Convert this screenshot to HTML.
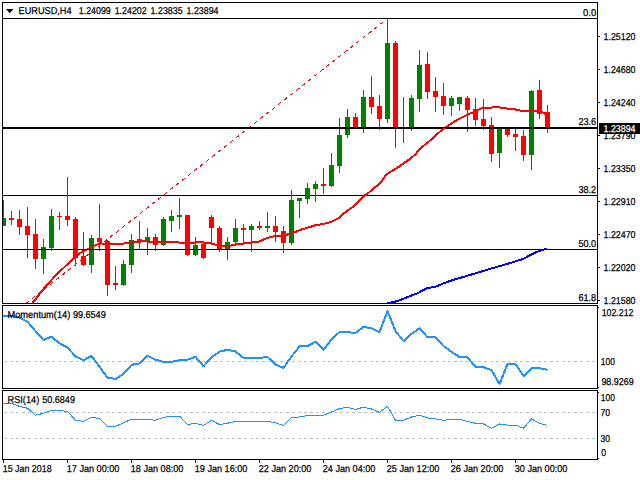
<!DOCTYPE html>
<html><head><meta charset="utf-8"><title>EURUSD,H4</title>
<style>
html,body{margin:0;padding:0;background:#fff;}
body{width:640px;height:480px;overflow:hidden;font-family:"Liberation Sans",sans-serif;}
svg{display:block;position:absolute;left:0;top:0;}
text{font-family:"Liberation Sans",sans-serif;font-size:10px;fill:#000;stroke:#000;stroke-width:0.25px;text-rendering:geometricPrecision;}
.ce{shape-rendering:crispEdges;}
</style></head><body>
<svg width="640" height="480" viewBox="0 0 640 480">
<defs>
<clipPath id="cm"><rect x="3" y="3" width="594" height="300"/></clipPath>
<clipPath id="c1"><rect x="3" y="306" width="594" height="82"/></clipPath>
<clipPath id="c2"><rect x="3" y="391" width="594" height="68"/></clipPath>
</defs>
<rect x="0" y="0" width="640" height="480" fill="#fff"/>

<g class="ce" fill="#000">
<rect x="3" y="18" width="594" height="1"/>
<rect x="3" y="195" width="594" height="1"/>
<rect x="3" y="127" width="594" height="2"/>
</g>
<g clip-path="url(#cm)"><line class="ce" x1="387.5" y1="18.5" x2="20" y2="308.237" stroke="#ff0000" stroke-width="1" stroke-dasharray="3.825 3.825" stroke-dashoffset="2.42"/></g>
<g class="ce" clip-path="url(#cm)">
<rect x="3" y="200" width="1" height="26" fill="#008000"/>
<rect x="11" y="211" width="1" height="14" fill="#ff0000"/>
<rect x="19" y="210" width="1" height="25" fill="#ff0000"/>
<rect x="27" y="207" width="1" height="51" fill="#ff0000"/>
<rect x="35" y="219" width="1" height="50" fill="#ff0000"/>
<rect x="43" y="239" width="1" height="35" fill="#008000"/>
<rect x="51" y="209" width="1" height="42" fill="#008000"/>
<rect x="59" y="212" width="1" height="18" fill="#ff0000"/>
<rect x="67" y="177" width="1" height="49" fill="#ff0000"/>
<rect x="75" y="217" width="1" height="49" fill="#ff0000"/>
<rect x="83" y="232" width="1" height="34" fill="#ff0000"/>
<rect x="91" y="235" width="1" height="38" fill="#008000"/>
<rect x="99" y="204" width="1" height="47" fill="#ff0000"/>
<rect x="107" y="240" width="1" height="56" fill="#ff0000"/>
<rect x="115" y="266" width="1" height="24" fill="#ff0000"/>
<rect x="123" y="260" width="1" height="26" fill="#008000"/>
<rect x="131" y="234" width="1" height="39" fill="#008000"/>
<rect x="139" y="221" width="1" height="28" fill="#ff0000"/>
<rect x="147" y="228" width="1" height="27" fill="#008000"/>
<rect x="155" y="234" width="1" height="17" fill="#ff0000"/>
<rect x="163" y="217" width="1" height="29" fill="#008000"/>
<rect x="171" y="210" width="1" height="22" fill="#008000"/>
<rect x="179" y="198" width="1" height="31" fill="#008000"/>
<rect x="187" y="215" width="1" height="41" fill="#ff0000"/>
<rect x="195" y="237" width="1" height="19" fill="#008000"/>
<rect x="203" y="244" width="1" height="15" fill="#ff0000"/>
<rect x="211" y="215" width="1" height="30" fill="#ff0000"/>
<rect x="219" y="226" width="1" height="26" fill="#ff0000"/>
<rect x="227" y="237" width="1" height="23" fill="#008000"/>
<rect x="235" y="219" width="1" height="25" fill="#008000"/>
<rect x="243" y="224" width="1" height="19" fill="#ff0000"/>
<rect x="251" y="224" width="1" height="28" fill="#008000"/>
<rect x="259" y="221" width="1" height="9" fill="#ff0000"/>
<rect x="267" y="212" width="1" height="20" fill="#008000"/>
<rect x="275" y="216" width="1" height="26" fill="#ff0000"/>
<rect x="283" y="226" width="1" height="27" fill="#ff0000"/>
<rect x="291" y="190" width="1" height="55" fill="#008000"/>
<rect x="299" y="198" width="1" height="20" fill="#008000"/>
<rect x="307" y="183" width="1" height="21" fill="#008000"/>
<rect x="315" y="181" width="1" height="21" fill="#008000"/>
<rect x="323" y="168" width="1" height="26" fill="#ff0000"/>
<rect x="331" y="153" width="1" height="34" fill="#008000"/>
<rect x="339" y="118" width="1" height="55" fill="#008000"/>
<rect x="347" y="109" width="1" height="29" fill="#008000"/>
<rect x="355" y="113" width="1" height="14" fill="#ff0000"/>
<rect x="363" y="90" width="1" height="43" fill="#008000"/>
<rect x="371" y="76" width="1" height="38" fill="#ff0000"/>
<rect x="379" y="95" width="1" height="35" fill="#ff0000"/>
<rect x="387" y="19" width="1" height="104" fill="#008000"/>
<rect x="395" y="41" width="1" height="107" fill="#ff0000"/>
<rect x="403" y="97" width="1" height="46" fill="#008000"/>
<rect x="411" y="95" width="1" height="36" fill="#008000"/>
<rect x="419" y="50" width="1" height="62" fill="#008000"/>
<rect x="427" y="52" width="1" height="47" fill="#ff0000"/>
<rect x="435" y="77" width="1" height="35" fill="#ff0000"/>
<rect x="443" y="83" width="1" height="32" fill="#ff0000"/>
<rect x="451" y="96" width="1" height="20" fill="#008000"/>
<rect x="459" y="97" width="1" height="14" fill="#008000"/>
<rect x="467" y="96" width="1" height="36" fill="#ff0000"/>
<rect x="475" y="98" width="1" height="28" fill="#ff0000"/>
<rect x="483" y="99" width="1" height="31" fill="#ff0000"/>
<rect x="491" y="117" width="1" height="45" fill="#ff0000"/>
<rect x="499" y="128" width="1" height="40" fill="#008000"/>
<rect x="507" y="128" width="1" height="9" fill="#ff0000"/>
<rect x="515" y="129" width="1" height="22" fill="#ff0000"/>
<rect x="523" y="130" width="1" height="31" fill="#ff0000"/>
<rect x="531" y="90" width="1" height="80" fill="#008000"/>
<rect x="539" y="80" width="1" height="39" fill="#ff0000"/>
<rect x="547" y="105" width="1" height="28" fill="#ff0000"/>
</g>
<g class="ce" clip-path="url(#cm)">
<rect x="1" y="218" width="5" height="8" fill="#008000"/>
<rect x="9" y="218" width="5" height="2" fill="#ff0000"/>
<rect x="17" y="219" width="5" height="8" fill="#ff0000"/>
<rect x="25" y="226" width="5" height="9" fill="#ff0000"/>
<rect x="33" y="234" width="5" height="25" fill="#ff0000"/>
<rect x="41" y="247" width="5" height="12" fill="#008000"/>
<rect x="49" y="216" width="5" height="32" fill="#008000"/>
<rect x="57" y="216" width="5" height="1" fill="#ff0000"/>
<rect x="65" y="216" width="5" height="4" fill="#ff0000"/>
<rect x="73" y="219" width="5" height="39" fill="#ff0000"/>
<rect x="81" y="256" width="5" height="9" fill="#ff0000"/>
<rect x="89" y="238" width="5" height="27" fill="#008000"/>
<rect x="97" y="238" width="5" height="4" fill="#ff0000"/>
<rect x="105" y="241" width="5" height="44" fill="#ff0000"/>
<rect x="113" y="283" width="5" height="2" fill="#ff0000"/>
<rect x="121" y="264" width="5" height="21" fill="#008000"/>
<rect x="129" y="240" width="5" height="25" fill="#008000"/>
<rect x="137" y="239" width="5" height="2" fill="#ff0000"/>
<rect x="145" y="237" width="5" height="4" fill="#008000"/>
<rect x="153" y="237" width="5" height="8" fill="#ff0000"/>
<rect x="161" y="219" width="5" height="26" fill="#008000"/>
<rect x="169" y="216" width="5" height="5" fill="#008000"/>
<rect x="177" y="215" width="5" height="2" fill="#008000"/>
<rect x="185" y="215" width="5" height="40" fill="#ff0000"/>
<rect x="193" y="245" width="5" height="10" fill="#008000"/>
<rect x="201" y="244" width="5" height="14" fill="#ff0000"/>
<rect x="209" y="217" width="5" height="11" fill="#ff0000"/>
<rect x="217" y="228" width="5" height="21" fill="#ff0000"/>
<rect x="225" y="242" width="5" height="7" fill="#008000"/>
<rect x="233" y="228" width="5" height="14" fill="#008000"/>
<rect x="241" y="228" width="5" height="2" fill="#ff0000"/>
<rect x="249" y="226" width="5" height="4" fill="#008000"/>
<rect x="257" y="226" width="5" height="2" fill="#ff0000"/>
<rect x="265" y="226" width="5" height="2" fill="#008000"/>
<rect x="273" y="226" width="5" height="6" fill="#ff0000"/>
<rect x="281" y="231" width="5" height="12" fill="#ff0000"/>
<rect x="289" y="200" width="5" height="43" fill="#008000"/>
<rect x="297" y="198" width="5" height="3" fill="#008000"/>
<rect x="305" y="188" width="5" height="11" fill="#008000"/>
<rect x="313" y="184" width="5" height="5" fill="#008000"/>
<rect x="321" y="184" width="5" height="2" fill="#ff0000"/>
<rect x="329" y="165" width="5" height="21" fill="#008000"/>
<rect x="337" y="135" width="5" height="31" fill="#008000"/>
<rect x="345" y="117" width="5" height="18" fill="#008000"/>
<rect x="353" y="117" width="5" height="10" fill="#ff0000"/>
<rect x="361" y="97" width="5" height="30" fill="#008000"/>
<rect x="369" y="97" width="5" height="10" fill="#ff0000"/>
<rect x="377" y="106" width="5" height="13" fill="#ff0000"/>
<rect x="385" y="43" width="5" height="76" fill="#008000"/>
<rect x="393" y="43" width="5" height="86" fill="#ff0000"/>
<rect x="401" y="127" width="5" height="2" fill="#008000"/>
<rect x="409" y="98" width="5" height="29" fill="#008000"/>
<rect x="417" y="65" width="5" height="34" fill="#008000"/>
<rect x="425" y="64" width="5" height="28" fill="#ff0000"/>
<rect x="433" y="91" width="5" height="6" fill="#ff0000"/>
<rect x="441" y="96" width="5" height="10" fill="#ff0000"/>
<rect x="449" y="98" width="5" height="8" fill="#008000"/>
<rect x="457" y="97" width="5" height="7" fill="#008000"/>
<rect x="465" y="98" width="5" height="12" fill="#ff0000"/>
<rect x="473" y="109" width="5" height="11" fill="#ff0000"/>
<rect x="481" y="119" width="5" height="7" fill="#ff0000"/>
<rect x="489" y="125" width="5" height="29" fill="#ff0000"/>
<rect x="497" y="129" width="5" height="24" fill="#008000"/>
<rect x="505" y="129" width="5" height="6" fill="#ff0000"/>
<rect x="513" y="134" width="5" height="3" fill="#ff0000"/>
<rect x="521" y="136" width="5" height="19" fill="#ff0000"/>
<rect x="529" y="91" width="5" height="64" fill="#008000"/>
<rect x="537" y="90" width="5" height="24" fill="#ff0000"/>
<rect x="545" y="112" width="5" height="17" fill="#ff0000"/>
</g>
<rect class="ce" x="3" y="127" width="594" height="2" fill="#000"/>
<g clip-path="url(#cm)" class="ce" fill="none" stroke-linejoin="round"><polyline points="21.5,318 32.5,303 43.5,289 56,275 73,259 80,253 83.5,251 91.5,247.4 99.5,243.3 107.5,244 115.5,244 123.5,243.6 131.5,242.6 139.5,241.52 147.5,241.45 155.5,242.2 163.5,242 171.5,242 178.9,242.4 179.5,242.6 187.5,243 195.7,242.6 196.1,242.4 203.1,242.4 203.5,242.6 207,243 211.3,243.5 215.2,244.5 217,245.5 224,246 231,245.5 236.25,244.5 243.7,243.5 251.1,242.5 259,241.5 261.6,240.5 263.4,239.5 267,238 275,236 283,235.5 291,233.75 300,230 310,227 316,225 320,224.6 327.75,222.85 332,221.55 338.25,218.5 341.75,215 348.75,209.7 354,206.2 359.25,201 364.5,195.7 369.25,192.2 374.5,187.8 381.1,182.1 385.9,175.1 387.6,173.8 393.75,169.85 399,166.8 404.25,162.85 409.5,159.35 414.75,155 418.8,150.4 423,146.2 431.75,139.2 438.75,132.65 444,128.3 451,123.9 458,119.5 465,116 470,113.5 473,112.5 475.5,111.5 477.5,110.5 479.1,109.5 480.9,108.5 486.5,108 492.2,107.5 496,107 499.7,107.5 503.4,108 507.1,108.5 511.2,109 515.4,109.5 519.5,110.5 528,111 537,111.2 541.9,111.5 543.1,112.5 544.5,113.5 547.5,114.5" stroke="#ff0000" stroke-width="2"/><polyline points="381,305 389.5,302.75 398,301 406.5,297.5 417.5,293.2 427.5,288 435,287 442.5,283.75 450,281 455,279.4 460,278 475.6,273.3 491,268.6 507,264 522.5,259.2 530,255.3 538,251.4 546,248.75 547.5,248.5" stroke="#0000ff" stroke-width="2"/></g>
<rect class="ce" x="3" y="127" width="594" height="1" fill="#000"/><rect class="ce" x="3" y="249" width="594" height="1" fill="#000"/>
<g class="ce" stroke="#c0c0c0" stroke-width="1" stroke-dasharray="3 3">
<line x1="4" y1="361.5" x2="597" y2="361.5"/>
<line x1="4" y1="412.5" x2="597" y2="412.5"/>
<line x1="4" y1="438.5" x2="597" y2="438.5"/>
</g>
<g class="ce" fill="none" stroke="#1e90ff" stroke-linejoin="round"><polyline clip-path="url(#c1)" points="3,315.75 3.5,315.75 11.5,315.75 19.5,317.6 27.5,321.75 35.5,331.1 43.5,340 51.5,336.75 59.5,343.3 67.5,347.6 75.5,356.4 83.5,360.2 91.5,355.9 99.5,366.75 107.5,377.6 115.5,379 123.5,373.9 131.5,364.9 139.5,363.4 147.5,355.9 155.5,359.6 163.5,362 171.5,361.9 179.5,360.2 187.5,359.8 195.5,356.8 203.5,366.2 211.5,357.4 219.5,351.6 227.5,349.9 235.5,351.4 243.5,357.9 251.5,357.9 259.5,357.9 267.5,357 275.5,364.5 283.5,367.9 291.5,356.4 299.5,346.5 307.5,346.1 315.5,341.8 323.5,349.9 331.5,339.2 339.5,332.1 347.5,332.1 355.5,333 363.5,327 371.5,328.3 379.5,332.1 387.5,311.2 395.5,331.1 403.5,341.1 411.5,333.9 419.5,328.3 427.5,337.1 435.5,337.1 443.5,346.1 451.5,351.75 459.5,357 467.5,357.4 475.5,366.75 483.5,367.1 491.5,370.1 499.5,384 507.5,363.9 515.5,363.9 523.5,376.1 531.5,368.1 539.5,368.1 547.5,369.9" stroke-width="2"/><polyline clip-path="url(#c2)" points="3,403.4 3.5,403.4 11.5,403.4 19.5,406.4 27.5,408.25 35.5,415.2 43.5,413.3 51.5,410.5 59.5,410.5 67.5,411.4 75.5,420.25 83.5,421.4 91.5,417.4 99.5,418.4 107.5,426.4 115.5,426.4 123.5,422.7 131.5,419.3 139.5,419.3 147.5,419.3 155.5,420.25 163.5,417.4 171.5,416.1 179.5,416.1 187.5,424.6 195.5,423.25 203.5,425.5 211.5,420.25 219.5,424.6 227.5,423.25 235.5,421.4 243.5,421.4 251.5,421.4 259.5,421.4 267.5,421.4 275.5,422.7 283.5,425.5 291.5,417.4 299.5,417 307.5,415.6 315.5,415.2 323.5,415.2 331.5,412 339.5,408.6 347.5,407.1 355.5,409.6 363.5,407.1 371.5,409 379.5,412.4 387.5,406.2 395.5,420.25 403.5,420.25 411.5,417 419.5,415.2 427.5,418 435.5,418.9 443.5,420.25 451.5,419.3 459.5,419.3 467.5,421.4 475.5,423.25 483.5,424 491.5,428.3 499.5,424 507.5,425.1 515.5,425.1 523.5,428.3 531.5,418.9 539.5,423.25 547.5,425.5" stroke-width="1"/></g>
<g class="ce" fill="#000">
<rect x="2" y="2" width="596" height="1"/>
<rect x="2" y="2" width="1" height="457"/>
<rect x="597" y="2" width="1" height="457"/>
<rect x="2" y="303" width="596" height="1"/>
<rect x="2" y="305" width="596" height="1"/>
<rect x="2" y="388" width="596" height="1"/>
<rect x="2" y="390" width="596" height="1"/>
<rect x="2" y="459" width="596" height="1"/>
</g>
<g class="ce" fill="#fff"><rect x="0" y="304" width="640" height="1"/><rect x="0" y="389" width="640" height="1"/></g>
<g class="ce" fill="#000">
<rect x="598" y="36" width="2" height="1"/>
<rect x="598" y="69" width="2" height="1"/>
<rect x="598" y="102" width="2" height="1"/>
<rect x="598" y="135" width="2" height="1"/>
<rect x="598" y="168" width="2" height="1"/>
<rect x="598" y="201" width="2" height="1"/>
<rect x="598" y="234" width="2" height="1"/>
<rect x="598" y="267" width="2" height="1"/>
<rect x="598" y="300" width="2" height="1"/>
<rect x="598" y="307" width="1" height="1"/>
<rect x="598" y="387" width="1" height="1"/>
<rect x="598" y="392" width="1" height="1"/>
<rect x="598" y="458" width="1" height="1"/>
<rect x="3" y="460" width="1" height="3"/>
<rect x="67" y="460" width="1" height="3"/>
<rect x="131" y="460" width="1" height="3"/>
<rect x="195" y="460" width="1" height="3"/>
<rect x="259" y="460" width="1" height="3"/>
<rect x="323" y="460" width="1" height="3"/>
<rect x="387" y="460" width="1" height="3"/>
<rect x="451" y="460" width="1" height="3"/>
<rect x="515" y="460" width="1" height="3"/>
</g>
<polygon points="6,9 13.5,9 9.75,13.2" fill="#000"/>
<text transform="translate(18.6,14) scale(1,1)" textLength="53" lengthAdjust="spacingAndGlyphs">EURUSD,H4</text>
<text transform="translate(78.8,14) scale(1,1)" textLength="32" lengthAdjust="spacingAndGlyphs">1.24099</text>
<text transform="translate(114.7,14) scale(1,1)" textLength="32" lengthAdjust="spacingAndGlyphs">1.24202</text>
<text transform="translate(150.6,14) scale(1,1)" textLength="32" lengthAdjust="spacingAndGlyphs">1.23835</text>
<text transform="translate(186.5,14) scale(1,1)" textLength="32" lengthAdjust="spacingAndGlyphs">1.23894</text>
<text transform="translate(603.5,40) scale(1,1)" textLength="32" lengthAdjust="spacingAndGlyphs">1.25120</text>
<text transform="translate(603.5,73) scale(1,1)" textLength="32" lengthAdjust="spacingAndGlyphs">1.24680</text>
<text transform="translate(603.5,106) scale(1,1)" textLength="32" lengthAdjust="spacingAndGlyphs">1.24240</text>
<text transform="translate(603.5,139) scale(1,1)" textLength="32" lengthAdjust="spacingAndGlyphs">1.23790</text>
<text transform="translate(603.5,172) scale(1,1)" textLength="32" lengthAdjust="spacingAndGlyphs">1.23350</text>
<text transform="translate(603.5,205) scale(1,1)" textLength="32" lengthAdjust="spacingAndGlyphs">1.22910</text>
<text transform="translate(603.5,238) scale(1,1)" textLength="32" lengthAdjust="spacingAndGlyphs">1.22470</text>
<text transform="translate(603.5,271) scale(1,1)" textLength="32" lengthAdjust="spacingAndGlyphs">1.22020</text>
<text transform="translate(603.5,304) scale(1,1)" textLength="32" lengthAdjust="spacingAndGlyphs">1.21580</text>
<rect class="ce" x="599" y="123" width="41" height="11" fill="#000"/>
<text transform="translate(603.5,132) scale(1,1)" textLength="32" lengthAdjust="spacingAndGlyphs" style="fill:#fff;stroke:#fff">1.23894</text>
<text transform="translate(583,16) scale(1,1)" textLength="13.2" lengthAdjust="spacingAndGlyphs">0.0</text>
<text transform="translate(578.4,125) scale(1,1)" textLength="17.8" lengthAdjust="spacingAndGlyphs">23.6</text>
<text transform="translate(578.4,193) scale(1,1)" textLength="17.8" lengthAdjust="spacingAndGlyphs">38.2</text>
<text transform="translate(578.4,247) scale(1,1)" textLength="17.8" lengthAdjust="spacingAndGlyphs">50.0</text>
<text transform="translate(578.4,301) scale(1,1)" textLength="17.8" lengthAdjust="spacingAndGlyphs">61.8</text>
<text transform="translate(7.5,318) scale(1,1)" textLength="62.8" lengthAdjust="spacingAndGlyphs">Momentum(14)</text>
<text transform="translate(72.9,318) scale(1,1)" textLength="32.8" lengthAdjust="spacingAndGlyphs">99.6549</text>
<text transform="translate(7.5,403) scale(1,1)" textLength="31.7" lengthAdjust="spacingAndGlyphs">RSI(14)</text>
<text transform="translate(42.3,403) scale(1,1)" textLength="32.6" lengthAdjust="spacingAndGlyphs">50.6849</text>
<text transform="translate(601.7,316) scale(1,1)" textLength="31.8" lengthAdjust="spacingAndGlyphs">102.212</text>
<text transform="translate(600.8,365) scale(1,1)" textLength="14" lengthAdjust="spacingAndGlyphs">100</text>
<text transform="translate(601.4,385) scale(1,1)" textLength="32.3" lengthAdjust="spacingAndGlyphs">98.9269</text>
<text transform="translate(600.8,401) scale(1,1)" textLength="14" lengthAdjust="spacingAndGlyphs">100</text>
<text transform="translate(600.5,416) scale(1,1)" textLength="9.5" lengthAdjust="spacingAndGlyphs">70</text>
<text transform="translate(600.5,442) scale(1,1)" textLength="9.5" lengthAdjust="spacingAndGlyphs">30</text>
<text transform="translate(601.2,456) scale(1,1)" textLength="4.8" lengthAdjust="spacingAndGlyphs">0</text>
<text transform="translate(2.8,472) scale(1,1)" textLength="48.8" lengthAdjust="spacingAndGlyphs">15 Jan 2018</text>
<text transform="translate(66.8,472) scale(1,1)" textLength="52.5" lengthAdjust="spacingAndGlyphs">17 Jan 00:00</text>
<text transform="translate(130.8,472) scale(1,1)" textLength="52.5" lengthAdjust="spacingAndGlyphs">18 Jan 08:00</text>
<text transform="translate(194.8,472) scale(1,1)" textLength="52.5" lengthAdjust="spacingAndGlyphs">19 Jan 16:00</text>
<text transform="translate(258.8,472) scale(1,1)" textLength="52.5" lengthAdjust="spacingAndGlyphs">22 Jan 20:00</text>
<text transform="translate(322.8,472) scale(1,1)" textLength="52.5" lengthAdjust="spacingAndGlyphs">24 Jan 04:00</text>
<text transform="translate(386.8,472) scale(1,1)" textLength="52.5" lengthAdjust="spacingAndGlyphs">25 Jan 12:00</text>
<text transform="translate(450.8,472) scale(1,1)" textLength="52.5" lengthAdjust="spacingAndGlyphs">26 Jan 20:00</text>
<text transform="translate(514.8,472) scale(1,1)" textLength="52.5" lengthAdjust="spacingAndGlyphs">30 Jan 00:00</text>
</svg></body></html>
